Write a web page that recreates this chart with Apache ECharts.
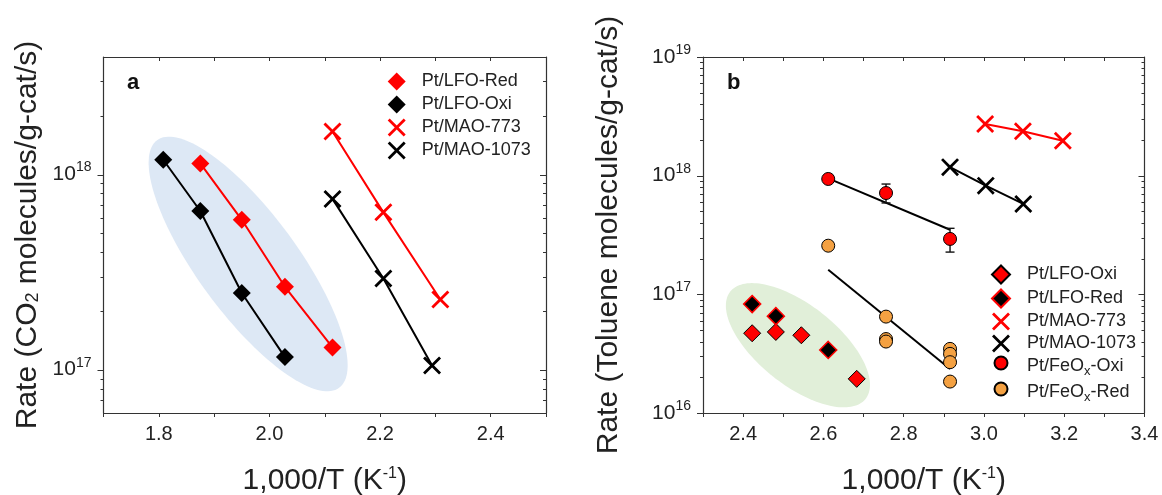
<!DOCTYPE html>
<html><head><meta charset="utf-8">
<script src="https://cdn.jsdelivr.net/npm/echarts@6/dist/echarts.min.js"></script>
<style>html,body{margin:0;padding:0;background:#fff}#c{width:1162px;height:495px}</style>
</head><body><div id="c"></div>
<script>
// ---------------- Panel a data (CO2 oxidation) ----------------
const aLfoRedX   = [1.875, 1.950, 2.028, 2.114];
const aLfoRedY   = [1.14e18, 5.86e17, 2.66e17, 1.30e17];
const aLfoOxiX   = [1.808, 1.875, 1.950, 2.028];
const aLfoOxiY   = [1.19e18, 6.5e17, 2.47e17, 1.16e17];
const aMao773X   = [2.114, 2.206, 2.309];
const aMao773Y   = [1.66e18, 6.4e17, 2.29e17];
const aMao1073X  = [2.114, 2.206, 2.294];
const aMao1073Y  = [7.5e17, 2.93e17, 1.05e17];
const aEllipse   = [1.797, 1.50e18, 2.126, 8.08e16]; // tip-to-tip along major axis
const aXRange    = [1.7, 2.5];
const aYRange    = [6e16, 4e18];
const aXLabels   = ['1.8', '2.0', '2.2', '2.4'];
const aYLabelExp = [17, 18];

// ---------------- Panel b data (Toluene oxidation) ----------------
const bLfoOxiX   = [2.4225, 2.4815, 2.545, 2.683];
const bLfoOxiY   = [4.70e16, 4.82e16, 4.52e16, 1.94e16];
const bLfoRedX   = [2.4225, 2.4815, 2.612];
const bLfoRedY   = [8.27e16, 6.55e16, 3.40e16];
const bMao773X   = [3.003, 3.097, 3.1965];
const bMao773Y   = [2.72e18, 2.37e18, 1.97e18];
const bMao1073X  = [2.9155, 3.0045, 3.098];
const bMao1073Y  = [1.18e18, 8.24e17, 5.78e17];
const bFeoxOxiX  = [2.612, 2.756, 2.9155];
const bFeoxOxiY  = [9.38e17, 7.14e17, 2.93e17];
const bFeoxOxiLo = [8.9e17, 5.89e17, 2.27e17];
const bFeoxOxiHi = [9.9e17, 8.5e17, 3.6e17];
const bFeoxRedX  = [2.612, 2.756, 2.756, 2.756, 2.9155, 2.9155, 2.9155, 2.9155];
const bFeoxRedY  = [2.57e17, 6.49e16, 4.2e16, 4.0e16, 3.47e16, 3.15e16, 2.68e16, 1.84e16];
const bFitOxiX   = [2.612, 2.9155];
const bFitOxiY   = [9.5e17, 3.5e17];
const bFitRedX   = [2.612, 2.9155];
const bFitRedY   = [1.61e17, 2.35e16];
const bEllipse   = [2.368, 1.055e17, 2.705, 1.315e16];
const bXRange    = [2.3, 3.4];
const bYRange    = [1e16, 1e19];
const bXLabels   = ['2.4', '2.6', '2.8', '3.0', '3.2', '3.4'];
const bYLabelExp = [16, 17, 18, 19];

// ---------------- styling ----------------
const FONT = '"Liberation Sans", Arial, Helvetica, sans-serif';
const RED = '#ff0000', BLACK = '#000000', ORANGE = '#f4a142', AXIS = '#333333', TEXT = '#222222';
const BLUE_FILL = '#dde8f5', GREEN_FILL = '#e1efd9';
const XPATH = 'path://M0,1.1L1.1,0L5,3.9L8.9,0L10,1.1L6.1,5L10,8.9L8.9,10L5,6.1L1.1,10L0,8.9L3.9,5Z';

const pairs = (xs, ys) => xs.map((x, i) => [x, ys[i]]);

function logTicks(min, max) {
  const out = [];
  for (let e = Math.floor(Math.log10(min)); e <= Math.ceil(Math.log10(max)); e++) {
    for (let k = 1; k <= 9; k++) {
      const v = k * Math.pow(10, e);
      const major = k === 1;
      if (major ? (v >= min * 0.999 && v <= max * 1.001) : (v > min * 1.001 && v < max * 0.999)) out.push(v);
    }
  }
  return out;
}

function xAxisCfg(gridIndex, range, labels, top, name) {
  return {
    type: 'value', gridIndex, position: top ? 'top' : 'bottom',
    min: range[0], max: range[1], interval: 0.1,
    axisLine: { show: true, onZero: false, lineStyle: { color: AXIS, width: 1.2 } },
    axisTick: { show: true, inside: !!top, length: 4, lineStyle: { color: AXIS, width: 1 } },
    splitLine: { show: false },
    axisLabel: top ? { show: false } : {
      show: true, margin: 11, fontSize: 20, color: TEXT, fontFamily: FONT,
      formatter: v => { const s = v.toFixed(1); return labels.includes(s) ? s : ''; }
    },
    name: top ? '' : name, nameLocation: 'middle', nameGap: 53,
    nameTextStyle: { fontSize: 30, color: TEXT, fontFamily: FONT,
      rich: { sup: { fontSize: 16, color: TEXT, fontFamily: FONT, padding: [0, 0, 14, 0] } } },
    silent: true
  };
}

function yAxisCfg(gridIndex, range, exps, right, name, nameGap) {
  return {
    type: 'log', logBase: 10, gridIndex, position: right ? 'right' : 'left',
    min: range[0], max: range[1],
    axisLine: { show: true, onZero: false, lineStyle: { color: AXIS, width: 1.2 } },
    axisTick: { show: false },
    splitLine: { show: false }, minorTick: { show: false }, minorSplitLine: { show: false },
    axisLabel: right ? { show: false } : {
      show: true, margin: 12, fontSize: 21, color: TEXT, fontFamily: FONT,
      showMinLabel: true, showMaxLabel: true,
      formatter: v => {
        const l = Math.log10(v), r = Math.round(l);
        return (Math.abs(l - r) < 1e-6 && exps.includes(r)) ? '10{sup|' + r + '}' : '';
      },
      rich: { sup: { fontSize: 14, color: TEXT, fontFamily: FONT, padding: [0, 0, 14, 0] } }
    },
    name: right ? '' : name, nameLocation: 'middle', nameGap,
    nameTextStyle: { fontSize: 30, color: TEXT, fontFamily: FONT,
      rich: { sub: { fontSize: 18, color: TEXT, fontFamily: FONT, padding: [12, 0, 0, 0] } } },
    silent: true
  };
}

function tickSeries(xi, yi, xRange, yRange) {
  return {
    type: 'custom', xAxisIndex: xi, yAxisIndex: yi, silent: true, clip: false, z: 4,
    data: logTicks(yRange[0], yRange[1]).map(v => [xRange[0], v]),
    encode: { x: 0, y: 1 },
    renderItem: (params, api) => {
      const v = api.value(1);
      const l = Math.log10(v);
      const len = Math.abs(l - Math.round(l)) < 1e-9 ? 6 : 3;
      const pl = api.coord([xRange[0], v]), pr = api.coord([xRange[1], v]);
      const y = Math.round(pl[1]) + 0.5;
      const st = { stroke: AXIS, lineWidth: 1 };
      return { type: 'group', children: [
        { type: 'line', shape: { x1: pl[0] - len, y1: y, x2: pl[0], y2: y }, style: st },
        { type: 'line', shape: { x1: pr[0] - len, y1: y, x2: pr[0], y2: y }, style: st }
      ] };
    }
  };
}

function ellipseSeries(xi, yi, tips, halfWidth, color) {
  return {
    type: 'custom', xAxisIndex: xi, yAxisIndex: yi, silent: true, z: 1,
    data: [tips], encode: { x: [0, 2], y: [1, 3] },
    renderItem: (params, api) => {
      const p1 = api.coord([api.value(0), api.value(1)]);
      const p2 = api.coord([api.value(2), api.value(3)]);
      const cx = (p1[0] + p2[0]) / 2, cy = (p1[1] + p2[1]) / 2;
      const a = Math.hypot(p2[0] - p1[0], p2[1] - p1[1]) / 2;
      const th = Math.atan2(p2[1] - p1[1], p2[0] - p1[0]);
      const pts = [];
      for (let i = 0; i < 144; i++) {
        const t = i / 144 * 2 * Math.PI;
        const ex = a * Math.cos(t), ey = halfWidth * Math.sin(t);
        pts.push([cx + ex * Math.cos(th) - ey * Math.sin(th), cy + ex * Math.sin(th) + ey * Math.cos(th)]);
      }
      return { type: 'polygon', shape: { points: pts }, style: { fill: color } };
    }
  };
}

function lineSeries(xi, yi, xs, ys, color) {
  return { type: 'line', xAxisIndex: xi, yAxisIndex: yi, data: pairs(xs, ys), symbol: 'none', showSymbol: false,
    lineStyle: { color, width: 2 }, z: 3, silent: true, animation: false };
}

function scatterSeries(name, xi, yi, xs, ys, symbol, size, fill, border, bw) {
  return { type: 'scatter', name, xAxisIndex: xi, yAxisIndex: yi, data: pairs(xs, ys), symbol, symbolSize: size,
    itemStyle: { color: fill, borderColor: border, borderWidth: bw, opacity: 1 }, z: 5, silent: true };
}

const legendText = (padTop, padLeft) => ({ fontSize: 18, lineHeight: 18, color: TEXT, fontFamily: FONT, padding: [padTop, 0, 0, padLeft],
  rich: { sub: { fontSize: 13, lineHeight: 18, color: TEXT, fontFamily: FONT, padding: [11, 0, 0, 0] } } });
const legendFmt = n => n.slice(2).replace('FeOx', 'FeO{sub|x}');

const option = {
  animation: false,
  backgroundColor: '#ffffff',
  textStyle: { fontFamily: FONT },
  grid: [
    { left: 103.5, top: 57, width: 442.5, height: 356, outerBoundsMode: 'none', containLabel: false },
    { left: 703, top: 57, width: 441.5, height: 356, outerBoundsMode: 'none', containLabel: false }
  ],
  xAxis: [
    xAxisCfg(0, aXRange, aXLabels, false, '1,000/T (K{sup|-1})'),
    xAxisCfg(0, aXRange, aXLabels, true, ''),
    xAxisCfg(1, bXRange, bXLabels, false, '1,000/T (K{sup|-1})'),
    xAxisCfg(1, bXRange, bXLabels, true, '')
  ],
  yAxis: [
    yAxisCfg(0, aYRange, aYLabelExp, false, 'Rate (CO{sub|2} molecules/g-cat/s)', 61),
    yAxisCfg(0, aYRange, aYLabelExp, true, '', 0),
    yAxisCfg(1, bYRange, bYLabelExp, false, 'Rate (Toluene molecules/g-cat/s)', 79),
    yAxisCfg(1, bYRange, bYLabelExp, true, '', 0)
  ],
  legend: [
    { data: ['a|Pt/LFO-Red', 'a|Pt/LFO-Oxi', 'a|Pt/MAO-773', 'a|Pt/MAO-1073'],
      orient: 'vertical', left: 387.7, top: 72.5, itemWidth: 18, itemHeight: 18, itemGap: 5,
      formatter: legendFmt, textStyle: legendText(0, 11), selectedMode: false, padding: 0 },
    { data: ['b|Pt/LFO-Oxi', 'b|Pt/LFO-Red', 'b|Pt/MAO-773', 'b|Pt/MAO-1073'],
      orient: 'vertical', left: 991, top: 264.5, itemWidth: 18, itemHeight: 18, itemGap: 4,
      formatter: legendFmt, textStyle: legendText(0, 12), selectedMode: false, padding: 0 },
    { data: ['b|Pt/FeOx-Oxi'],
      orient: 'vertical', left: 993.5, top: 351, itemWidth: 13, itemHeight: 13,
      formatter: legendFmt, textStyle: legendText(6, 14.5), selectedMode: false, padding: 0 },
    { data: ['b|Pt/FeOx-Red'],
      orient: 'vertical', left: 993.5, top: 377, itemWidth: 13, itemHeight: 13,
      formatter: legendFmt, textStyle: legendText(6, 14.5), selectedMode: false, padding: 0 }
  ],
  graphic: [
    { type: 'text', left: 127, top: 72, style: { text: 'a', fontSize: 22, fontWeight: 'bold', fill: '#111', fontFamily: FONT } },
    { type: 'text', left: 727, top: 72, style: { text: 'b', fontSize: 22, fontWeight: 'bold', fill: '#111', fontFamily: FONT } }
  ],
  series: [
    // panel a
    ellipseSeries(0, 0, aEllipse, 50, BLUE_FILL),
    tickSeries(0, 0, aXRange, aYRange),
    lineSeries(0, 0, aLfoRedX, aLfoRedY, RED),
    lineSeries(0, 0, aLfoOxiX, aLfoOxiY, BLACK),
    lineSeries(0, 0, aMao773X, aMao773Y, RED),
    lineSeries(0, 0, aMao1073X, aMao1073Y, BLACK),
    scatterSeries('a|Pt/LFO-Red', 0, 0, aLfoRedX, aLfoRedY, 'diamond', 18, RED, RED, 0),
    scatterSeries('a|Pt/LFO-Oxi', 0, 0, aLfoOxiX, aLfoOxiY, 'diamond', 18, BLACK, BLACK, 0),
    scatterSeries('a|Pt/MAO-773', 0, 0, aMao773X, aMao773Y, XPATH, 18, RED, RED, 0),
    scatterSeries('a|Pt/MAO-1073', 0, 0, aMao1073X, aMao1073Y, XPATH, 18, BLACK, BLACK, 0),
    // panel b
    ellipseSeries(2, 2, bEllipse, 40, GREEN_FILL),
    tickSeries(2, 2, bXRange, bYRange),
    lineSeries(2, 2, bFitOxiX, bFitOxiY, BLACK),
    lineSeries(2, 2, bFitRedX, bFitRedY, BLACK),
    lineSeries(2, 2, bMao773X, bMao773Y, RED),
    lineSeries(2, 2, bMao1073X, bMao1073Y, BLACK),
    {
      type: 'custom', xAxisIndex: 2, yAxisIndex: 2, silent: true, z: 4,
      data: bFeoxOxiX.map((x, i) => [x, bFeoxOxiLo[i], bFeoxOxiHi[i]]),
      encode: { x: 0, y: [1, 2] },
      renderItem: (params, api) => {
        const x = api.value(0);
        const pl = api.coord([x, api.value(1)]), ph = api.coord([x, api.value(2)]);
        const w = 4.5, st = { stroke: '#111', lineWidth: 1.4 };
        return { type: 'group', children: [
          { type: 'line', shape: { x1: pl[0], y1: pl[1], x2: ph[0], y2: ph[1] }, style: st },
          { type: 'line', shape: { x1: pl[0] - w, y1: pl[1], x2: pl[0] + w, y2: pl[1] }, style: st },
          { type: 'line', shape: { x1: ph[0] - w, y1: ph[1], x2: ph[0] + w, y2: ph[1] }, style: st }
        ] };
      }
    },
    scatterSeries('b|Pt/LFO-Oxi', 2, 2, bLfoOxiX, bLfoOxiY, 'diamond', 17, RED, BLACK, 1),
    scatterSeries('b|Pt/LFO-Red', 2, 2, bLfoRedX, bLfoRedY, 'diamond', 17, BLACK, RED, 1.5),
    scatterSeries('b|Pt/MAO-773', 2, 2, bMao773X, bMao773Y, XPATH, 18, RED, RED, 0),
    scatterSeries('b|Pt/MAO-1073', 2, 2, bMao1073X, bMao1073Y, XPATH, 18, BLACK, BLACK, 0),
    scatterSeries('b|Pt/FeOx-Oxi', 2, 2, bFeoxOxiX, bFeoxOxiY, 'circle', 13, RED, BLACK, 1),
    scatterSeries('b|Pt/FeOx-Red', 2, 2, bFeoxRedX, bFeoxRedY, 'circle', 13, ORANGE, BLACK, 1)
  ]
};

const chart = echarts.init(document.getElementById('c'), null, { renderer: 'canvas' });
chart.setOption(option);
</script>
</body></html>
